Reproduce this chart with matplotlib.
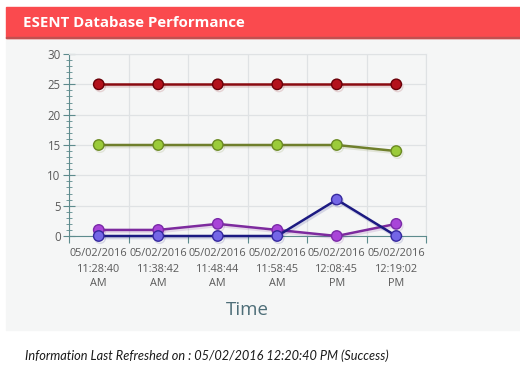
import matplotlib
matplotlib.use("Agg")
import matplotlib.pyplot as plt
import matplotlib.patheffects as pe
from matplotlib.patches import Rectangle
import numpy as np

times = ["05/02/2016\n11:28:40\nAM", "05/02/2016\n11:38:42\nAM", "05/02/2016\n11:48:44\nAM",
         "05/02/2016\n11:58:45\nAM", "05/02/2016\n12:08:45\nPM", "05/02/2016\n12:19:02\nPM"]
series_red = [25, 25, 25, 25, 25, 25]
series_green = [15, 15, 15, 15, 15, 14]
series_purple = [1, 1, 2, 1, 0, 2]
series_blue = [0, 0, 0, 0, 6, 0]

styles = [
    (series_red, "#8a0a10", "#b3121c", "#6a0008"),
    (series_green, "#6f7f2c", "#9bcb3a", "#6b8a22"),
    (series_purple, "#7d2a9e", "#a945d8", "#7a2aa8"),
    (series_blue, "#1c1a82", "#7466e6", "#35289e"),
]

fig = plt.figure(figsize=(5.2, 3.82), dpi=100)
W, H = 520, 382

# background panel and header
fig.patches.append(Rectangle((6 / W, 1 - 330 / H), 1, (330 - 38) / H,
                             transform=fig.transFigure, color="#f5f6f6", zorder=-2))
fig.patches.append(Rectangle((6 / W, 1 - 38 / H), 1, 31 / H,
                             transform=fig.transFigure, color="#fa4a4e", zorder=-1))
fig.patches.append(Rectangle((6 / W, 1 - 38 / H), 1, 1.2 / H,
                             transform=fig.transFigure, color="#c05050", zorder=-1))
fig.text(23 / W, 1 - 23 / H, "ESENT Database Performance", color="white",
         fontsize=10.8, fontweight="bold", family="Open Sans", va="center")

ax = fig.add_axes([69 / W, 1 - 236 / H, (426 - 69) / W, (236 - 54) / H])
ax.set_zorder(3)
ax.set_facecolor("#f5f6f6")
x = np.arange(len(times))

for vals, lc, fc, ec in styles:
    ax.plot(x, vals, color=lc, lw=1.8, marker="o", ms=7.5, mfc=fc, mec=ec, mew=1,
            clip_on=False, zorder=5,
            path_effects=[pe.SimpleLineShadow(offset=(1, -1.5), alpha=0.15, shadow_color=lc),
                          pe.Normal()])

ax.set_xlim(-0.5, len(times) - 0.5)
ax.set_ylim(0, 30)
ax.set_yticks(range(0, 31, 5))
ax.set_yticks(range(0, 31), minor=True)
ax.set_xticks(np.arange(-0.5, len(times), 1))
ax.set_xticklabels([])
ax.set_xticks(x, minor=True)
ax.set_xticklabels(times, minor=True, family="Open Sans", fontsize=7.8,
                   color="#5a5a5a", linespacing=1.5)

ax.tick_params(axis="y", which="major", direction="inout", length=8, color="#5d8b8d",
               labelsize=8.3, labelcolor="#5a5a5a", pad=2)
ax.tick_params(axis="y", which="minor", direction="inout", length=5, color="#5d8b8d")
ax.tick_params(axis="x", which="major", direction="out", length=5, color="#5d8b8d")
ax.tick_params(axis="x", which="minor", length=0, pad=9)
for lbl in ax.get_yticklabels():
    lbl.set_family("Open Sans")

ax.grid(True, which="major", color="#dfe2e4", lw=0.9)
ax.set_axisbelow(True)
for s in ["top", "right"]:
    ax.spines[s].set_color("#dfe2e4")
for s in ["left", "bottom"]:
    ax.spines[s].set_color("#5d8b8d")

fig.text(247 / W, 1 - 310 / H, "Time", fontsize=13.5, color="#4e6e78",
         family="Open Sans", ha="center", va="center")
fig.text(25 / W, 1 - 356 / H, "Information Last Refreshed on : 05/02/2016 12:20:40 PM (Success)",
         fontsize=9.2, style="italic", family="Lato", color="#1a1a1a", va="center")

fig.savefig("out.png", dpi=100)
